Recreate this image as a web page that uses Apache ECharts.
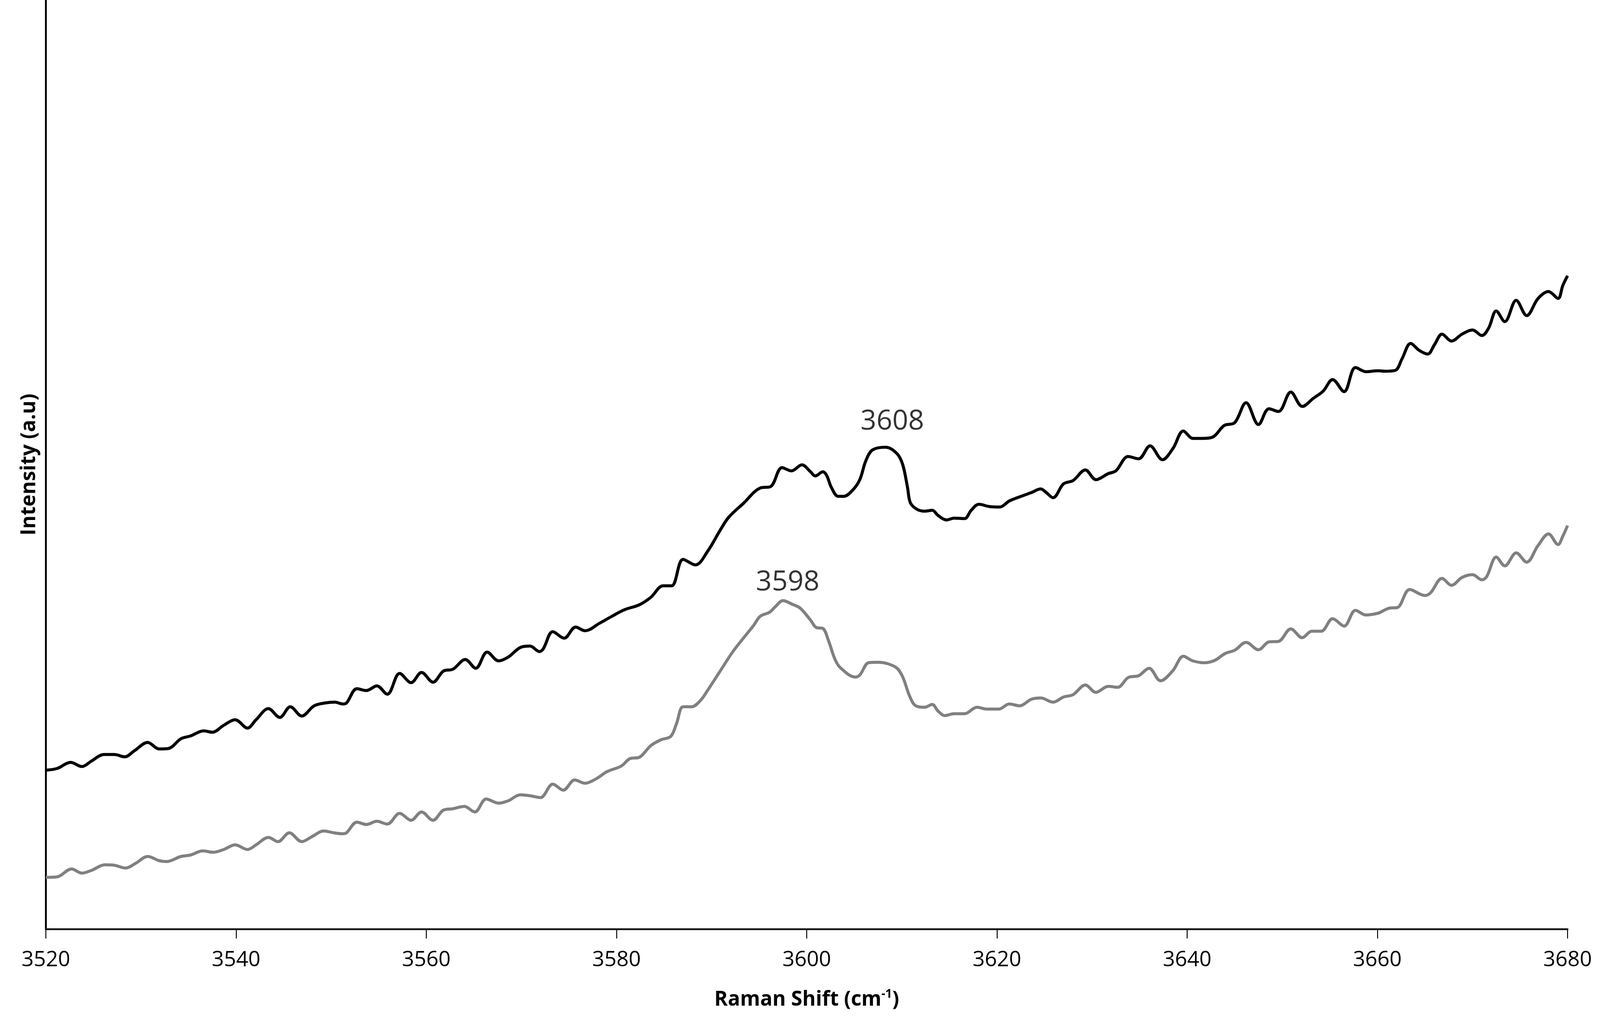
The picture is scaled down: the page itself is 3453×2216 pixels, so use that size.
<!DOCTYPE html>
<html>
<head>
<meta charset="utf-8">
<title>Raman spectra</title>
<script src="https://cdn.jsdelivr.net/npm/echarts@6/dist/echarts.min.js"></script>
<style>
  html, body { margin: 0; padding: 0; background: #fff; }
  #chart { width: 3453px; height: 2216px; }
</style>
</head>
<body>
<div id="chart"></div>
<script>
// x ticks (cm-1)
var xTicks = [3520, 3540, 3560, 3580, 3600, 3620, 3640, 3660, 3680];

// upper (black) spectrum (arbitrary units)
var blackShift = [
  3520.0, 3521.2, 3522.6, 3523.8, 3524.8, 3526.1, 3527.2, 3528.3, 3529.3, 3530.7,
  3531.9, 3532.9, 3534.2, 3535.2, 3536.6, 3537.5, 3538.7, 3539.9, 3541.2, 3542.1,
  3543.4, 3544.6, 3545.7, 3546.9, 3548.2, 3549.3, 3550.4, 3551.2, 3551.6, 3552.7,
  3553.7, 3554.8, 3555.9, 3557.2, 3558.4, 3559.5, 3560.7, 3561.8, 3562.8, 3564.1,
  3565.2, 3566.4, 3567.6, 3568.6, 3569.9, 3570.9, 3571.9, 3572.3, 3573.3, 3574.5,
  3575.7, 3576.7, 3578.2, 3579.5, 3580.8, 3582.4, 3583.6, 3584.9, 3585.8, 3587.0,
  3588.3, 3589.6, 3590.9, 3591.8, 3593.3, 3595.1, 3596.2, 3597.4, 3598.4, 3599.5,
  3600.4, 3600.9, 3601.7, 3602.1, 3602.6, 3603.3, 3603.9, 3604.9, 3605.6, 3606.2,
  3606.9, 3608.3, 3609.5, 3610.1, 3610.6, 3610.9, 3611.6, 3612.4, 3613.2, 3613.8,
  3614.7, 3615.5, 3616.6, 3617.3, 3618.1, 3619.2, 3620.3, 3621.3, 3622.4, 3623.6,
  3624.6, 3625.2, 3625.9, 3627.0, 3628.0, 3629.3, 3630.4, 3631.7, 3632.5, 3633.8,
  3634.9, 3636.1, 3637.4, 3638.5, 3639.6, 3640.6, 3641.6, 3642.7, 3643.9, 3645.0,
  3646.2, 3647.5, 3648.6, 3649.6, 3650.9, 3652.1, 3653.3, 3654.3, 3655.3, 3656.5,
  3657.7, 3658.8, 3660.1, 3660.8, 3661.9, 3662.6, 3663.5, 3664.4, 3665.3, 3666.0,
  3666.8, 3667.8, 3668.9, 3670.0, 3671.0, 3671.7, 3672.5, 3673.4, 3674.6, 3675.7,
  3676.9, 3678.0, 3679.0, 3679.5, 3680.0
];
var blackIntensity = [
  343, 347, 360, 351, 363, 377, 377, 372, 385, 403,
  389, 390, 411, 417, 428, 425, 440, 452, 434, 452,
  476, 457, 480, 460, 482, 488, 490, 486, 488, 519,
  515, 525, 507, 552, 532, 554, 533, 557, 561, 582,
  563, 598, 579, 587, 608, 611, 599, 605, 642, 628,
  652, 644, 660, 675, 689, 700, 716, 741, 741, 798,
  786, 816, 861, 889, 918, 952, 955, 996, 989, 1002,
  987, 978, 987, 979, 953, 934, 934, 949, 971, 1010,
  1034, 1040, 1026, 1002, 953, 920, 906, 902, 904, 893,
  883, 887, 886, 904, 917, 912, 911, 924, 933, 942,
  950, 942, 931, 961, 968, 991, 970, 983, 989, 1020,
  1015, 1043, 1013, 1037, 1075, 1059, 1059, 1062, 1087, 1093,
  1136, 1089, 1123, 1117, 1159, 1128, 1146, 1161, 1186, 1160,
  1212, 1203, 1205, 1204, 1206, 1231, 1264, 1249, 1241, 1261,
  1284, 1269, 1284, 1293, 1281, 1297, 1334, 1311, 1357, 1324,
  1361, 1376, 1361, 1389, 1410
];

// lower (grey) spectrum
var grayShift = [
  3520.0, 3521.2, 3522.7, 3523.8, 3524.8, 3526.2, 3527.2, 3528.4, 3529.5, 3530.7,
  3531.9, 3532.7, 3534.2, 3535.2, 3536.5, 3537.6, 3538.7, 3539.9, 3541.2, 3542.1,
  3543.4, 3544.4, 3545.6, 3546.9, 3548.0, 3549.2, 3550.3, 3551.2, 3551.6, 3552.7,
  3553.7, 3554.8, 3555.9, 3557.2, 3558.4, 3559.5, 3560.7, 3561.8, 3562.8, 3564.0,
  3565.1, 3566.3, 3567.6, 3568.6, 3569.9, 3570.9, 3572.0, 3573.3, 3574.4, 3575.6,
  3576.7, 3577.9, 3579.0, 3580.5, 3581.4, 3582.4, 3583.6, 3584.7, 3585.7, 3586.3,
  3587.0, 3587.9, 3588.8, 3589.6, 3590.9, 3592.2, 3593.3, 3594.4, 3595.1, 3596.1,
  3596.7, 3597.5, 3598.5, 3599.3, 3600.4, 3601.0, 3601.7, 3602.3, 3603.0, 3603.6,
  3605.1, 3605.6, 3606.5, 3607.5, 3608.5, 3609.5, 3610.1, 3610.8, 3611.4, 3612.4,
  3613.2, 3613.8, 3614.5, 3615.5, 3616.6, 3617.9, 3618.9, 3620.2, 3621.3, 3622.4,
  3623.6, 3624.6, 3625.9, 3627.0, 3628.0, 3629.3, 3630.4, 3631.7, 3632.7, 3633.8,
  3634.9, 3636.0, 3637.2, 3638.5, 3639.6, 3640.6, 3641.8, 3642.9, 3644.0, 3645.0,
  3646.2, 3647.5, 3648.6, 3649.6, 3650.9, 3652.1, 3653.1, 3654.1, 3655.3, 3656.5,
  3657.7, 3658.8, 3660.1, 3660.6, 3661.3, 3662.1, 3663.4, 3665.0, 3665.6, 3666.8,
  3667.8, 3668.9, 3670.0, 3671.0, 3671.5, 3672.5, 3673.4, 3674.6, 3675.7, 3676.9,
  3678.0, 3679.0, 3679.5, 3680.0
];
var grayIntensity = [
  112, 113, 130, 121, 127, 139, 138, 132, 143, 157,
  148, 146, 157, 160, 169, 166, 172, 182, 172, 182,
  198, 189, 208, 189, 200, 212, 208, 206, 208, 231,
  226, 233, 227, 250, 235, 253, 235, 257, 260, 265,
  253, 281, 272, 277, 290, 288, 284, 313, 300, 322,
  315, 325, 340, 352, 368, 371, 396, 409, 416, 443,
  480, 480, 493, 516, 557, 598, 627, 655, 675, 684,
  696, 709, 701, 693, 667, 651, 649, 622, 581, 563,
  544, 549, 575, 576, 573, 563, 544, 504, 483, 479,
  485, 471, 461, 465, 465, 479, 475, 475, 486, 482,
  496, 499, 490, 501, 506, 527, 511, 524, 522, 543,
  547, 563, 536, 558, 589, 579, 575, 580, 595, 602,
  619, 603, 620, 621, 648, 629, 643, 643, 670, 654,
  688, 678, 682, 687, 693, 694, 733, 720, 726, 757,
  742, 759, 765, 754, 761, 803, 784, 812, 792, 828,
  853, 830, 848, 871
];

// peak annotations: [shift, intensity where the label sits, text]
var peakLabels = [
  [3609, 1095, '3608'],
  [3598, 748, '3598']
];

function pairs(xs, ys) {
  var out = [];
  for (var i = 0; i < xs.length; i++) out.push([xs[i], ys[i]]);
  return out;
}

var myChart = echarts.init(document.getElementById('chart'));
myChart.setOption({
  animation: false,
  backgroundColor: '#ffffff',
  grid: { left: 99, right: 70, top: 0, bottom: 211, containLabel: false },
  xAxis: {
    type: 'value',
    min: xTicks[0],
    max: xTicks[xTicks.length - 1],
    interval: 20,
    name: '{t|Raman Shift (cm}{s|-1}{t|)}',
    nameLocation: 'middle',
    nameGap: 128,
    nameTextStyle: {
      rich: {
        t: { fontFamily: 'Open Sans', fontWeight: 'bold', fontSize: 44, color: '#000' },
        s: { fontFamily: 'Open Sans', fontWeight: 'bold', fontSize: 26, color: '#000', verticalAlign: 'top', padding: [0, 0, 22, 0] }
      }
    },
    axisLine: { show: true, lineStyle: { color: '#1a1a1a', width: 4 } },
    axisTick: { show: true, inside: false, length: 20, lineStyle: { color: '#000', width: 2 } },
    axisLabel: {
      margin: 44,
      fontFamily: 'Open Sans',
      fontSize: 46,
      color: '#000',
      formatter: function (v) { return String(v); }
    },
    splitLine: { show: false }
  },
  yAxis: {
    type: 'value',
    min: 0,
    max: 2005,
    name: 'Intensity (a.u)',
    nameLocation: 'middle',
    nameGap: 14,
    nameTextStyle: { fontFamily: 'Open Sans', fontWeight: 'bold', fontSize: 44, color: '#000' },
    axisLine: { show: true, lineStyle: { color: '#000', width: 4 } },
    axisTick: { show: false },
    axisLabel: { show: false },
    splitLine: { show: false }
  },
  series: [
    {
      name: 'upper',
      type: 'line',
      data: pairs(blackShift, blackIntensity),
      smooth: 0.35,
      showSymbol: false,
      lineStyle: { color: '#000000', width: 6.5 },
      z: 3
    },
    {
      name: 'lower',
      type: 'line',
      data: pairs(grayShift, grayIntensity),
      smooth: 0.35,
      showSymbol: false,
      lineStyle: { color: '#808080', width: 6.5 },
      z: 2
    },
    {
      name: 'peaks',
      type: 'scatter',
      symbolSize: 0,
      data: peakLabels.map(function (p) { return { value: [p[0], p[1]], name: p[2] }; }),
      label: {
        show: true,
        position: 'inside',
        formatter: '{b}',
        fontFamily: 'Open Sans',
        fontSize: 60,
        color: '#000'
      },
      z: 4
    }
  ]
});
</script>
</body>
</html>
